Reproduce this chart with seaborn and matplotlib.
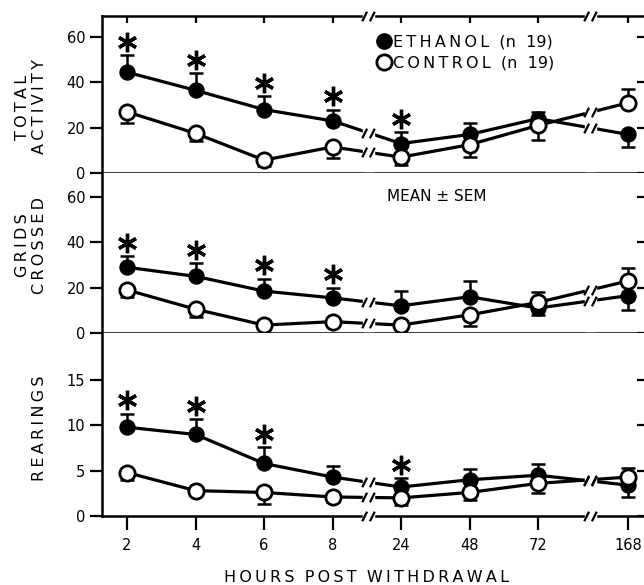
import numpy as np
import matplotlib
matplotlib.use("Agg")
import matplotlib.pyplot as plt
import matplotlib.transforms as mtransforms
from matplotlib.path import Path
from matplotlib.lines import Line2D
import seaborn as sns

# DATA

hours = ["2", "4", "6", "8", "24", "48", "72", "168"]

total_eth = [44.5, 36.5, 28, 23, 13, 17, 24, 17]
total_eth_sem = [7.5, 7.5, 6, 5, 5, 5, 3, 5.5]
total_con = [27, 17.5, 5.7, 11.5, 7, 12.5, 21, 31]
total_con_sem = [5, 3.5, 2.7, 5, 3.5, 5.5, 6.5, 6]

grids_eth = [29, 25, 18.5, 15.5, 12, 16, 11, 16.5]
grids_eth_sem = [5, 6, 5.5, 4.5, 6.5, 7, 3, 6.5]
grids_con = [19, 10.5, 3.5, 5, 3.5, 8, 13.5, 23]
grids_con_sem = [3, 3.5, 1, 1, 1, 5, 4.5, 5.5]

rear_eth = [9.8, 9.0, 5.8, 4.3, 3.2, 4.0, 4.5, 3.4]
rear_eth_sem = [1.5, 1.7, 1.8, 1.2, 1.0, 1.2, 1.2, 1.3]
rear_con = [4.8, 2.8, 2.6, 2.1, 2.0, 2.6, 3.6, 4.3]
rear_con_sem = [0.8, 0.5, 1.3, 0.5, 0.8, 0.8, 1.1, 1.0]

stars_total = ["2", "4", "6", "8", "24"]
stars_grids = ["2", "4", "6", "8"]
stars_rear = ["2", "4", "6", "24"]

# LAYOUT (broken time axis)

x_pos = np.array([0, 1, 2, 3, 4, 5, 6, 7.32])
breaks = [3.52, 6.76]

sns.set_style("ticks")
plt.rcParams['font.family'] = ['DejaVu Sans']
for key in ["text.color", "axes.labelcolor", "xtick.color", "ytick.color", "axes.edgecolor"]:
    plt.rcParams[key] = "black"


def spaced(s):
    # wide letter spacing like the typewritten original
    return "\u2009".join(s)


slash = Path([(-1.3, -1), (-0.3, 1), (0.3, -1), (1.3, 1)],
             [Path.MOVETO, Path.LINETO, Path.MOVETO, Path.LINETO])

fig = plt.figure(figsize=(6.44, 5.85), dpi=100)

left, right = 102 / 644, 1.0
edges = [16, 173, 333, 516]
panels = [
    (total_eth, total_eth_sem, total_con, total_con_sem, stars_total, 69.3, [0, 20, 40, 60]),
    (grids_eth, grids_eth_sem, grids_con, grids_con_sem, stars_grids, 70.6, [0, 20, 40, 60]),
    (rear_eth, rear_eth_sem, rear_con, rear_con_sem, stars_rear, 20.2, [0, 5, 10, 15]),
]

axes = []
for i, (eth, eth_sem, con, con_sem, stars, ytop, yt) in enumerate(panels):
    b = 1 - edges[i + 1] / 585
    h = (edges[i + 1] - edges[i]) / 585
    ax = fig.add_axes([left, b, right - left, h])
    axes.append(ax)
    eth = np.array(eth)
    con = np.array(con)

    # error bars: the upper series shows +SEM, the lower one -SEM
    for vals, sem, other in [(eth, np.array(eth_sem), con), (con, np.array(con_sem), eth)]:
        sign = np.where(vals >= other, 1, -1)
        ends = vals + sign * sem
        ax.vlines(x_pos, vals, ends, color="k", lw=1.8, zorder=2.5)
        ax.plot(x_pos, ends, ls="none", marker="_", ms=10, mew=1.8, color="k", zorder=2.5)

    sns.lineplot(x=x_pos, y=eth, ax=ax, color="k", lw=2.3, marker="o", ms=11,
                 markerfacecolor="k", markeredgecolor="k", zorder=3)
    sns.lineplot(x=x_pos, y=con, ax=ax, color="k", lw=2.3, marker="o", ms=11,
                 markerfacecolor="white", markeredgecolor="k", markeredgewidth=2, zorder=3.2)

    # significance asterisks above ethanol error bars
    off = mtransforms.offset_copy(ax.transData, fig=fig, y=9.5, units="points")
    for s in stars:
        j = hours.index(s)
        ax.plot(x_pos[j], eth[j] + eth_sem[j], marker=(6, 2, 0), ms=14, mew=2.4,
                color="k", transform=off, zorder=3.5)

    # axis breaks
    ylo = -0.03 if i == 2 else 0.01
    yhi = 1.03 if i == 0 else 0.99
    for bx in breaks:
        ax.axvspan(bx - 0.08, bx + 0.08, ymin=ylo, ymax=yhi, color="white",
                   zorder=4, clip_on=False)
        for vals in (eth, con):
            ax.plot(bx, np.interp(bx, x_pos, vals), marker=slash, ms=9, mew=1.6,
                    color="k", zorder=5)
        if i == 0:
            ax.plot(bx, 1, marker=slash, ms=9, mew=1.6, color="k", zorder=5,
                    transform=ax.get_xaxis_transform(), clip_on=False)
        if i == 2:
            ax.plot(bx, 0, marker=slash, ms=9, mew=1.6, color="k", zorder=5,
                    transform=ax.get_xaxis_transform(), clip_on=False)

    ax.set_xlim(-0.365, 7.547)
    ax.set_ylim(0, ytop)
    ax.set_yticks(yt)
    ax.set_xticks(x_pos)
    ax.set_xticklabels(hours)
    ax.set_xlabel("")
    ax.set_ylabel("")

    for sp in ax.spines.values():
        sp.set_linewidth(1.8)
    ax.spines["right"].set_visible(False)
    if i > 0:
        ax.spines["top"].set_visible(False)

    ax.tick_params(axis="y", left=True, right=True, labelsize=10.5,
                   width=1.6, length=9, direction="out", pad=3)
    ax.tick_params(axis="x", bottom=(i == 2), top=(i == 0), labelbottom=(i == 2),
                   labeltop=False, width=1.6, labelsize=10.5)
    if i == 0:
        ax.tick_params(axis="x", top=True, direction="in", length=5)
    if i == 2:
        ax.tick_params(axis="x", bottom=True, direction="out", length=10, pad=6)

    # right ticks point inward, left ticks outward
    for t in ax.yaxis.get_major_ticks():
        t.tick2line.set_marker(0)
        t.tick2line.set_markersize(5)

# legend and note
handles = [
    Line2D([], [], ls="none", marker="o", ms=11, mfc="k", mec="k"),
    Line2D([], [], ls="none", marker="o", ms=11, mfc="white", mec="k", mew=2),
]
labels = [spaced("ETHANOL") + "  (n  19)", spaced("CONTROL") + "  (n  19)"]
axes[0].legend(handles, labels, loc="upper left", bbox_to_anchor=(0.51, 0.88),
               frameon=False, handlelength=0.7, handletextpad=0.2, labelspacing=0.35,
               borderpad=0, borderaxespad=0, fontsize=11.5)
axes[1].text(0.618, 0.85, "MEAN \u00b1 SEM", transform=axes[1].transAxes,
             ha="center", va="center", fontsize=11)

# axis titles
fig.text(31 / 644, 1 - 107 / 585, spaced("TOTAL") + "\n" + spaced("ACTIVITY"),
         rotation=90, ha="center", va="center", fontsize=11.5, linespacing=1.1)
fig.text(31 / 644, 1 - 245 / 585, spaced("GRIDS") + "\n" + spaced("CROSSED"),
         rotation=90, ha="center", va="center", fontsize=11.5, linespacing=1.1)
fig.text(40 / 644, 1 - 428 / 585, spaced("REARINGS"),
         rotation=90, ha="center", va="center", fontsize=11.5)
fig.text(366 / 644, 1 - 577 / 585, spaced("HOURS") + "  " + spaced("POST") + "  " + spaced("WITHDRAWAL"),
         ha="center", va="center", fontsize=11.5)

fig.savefig("out.png", dpi=100)
